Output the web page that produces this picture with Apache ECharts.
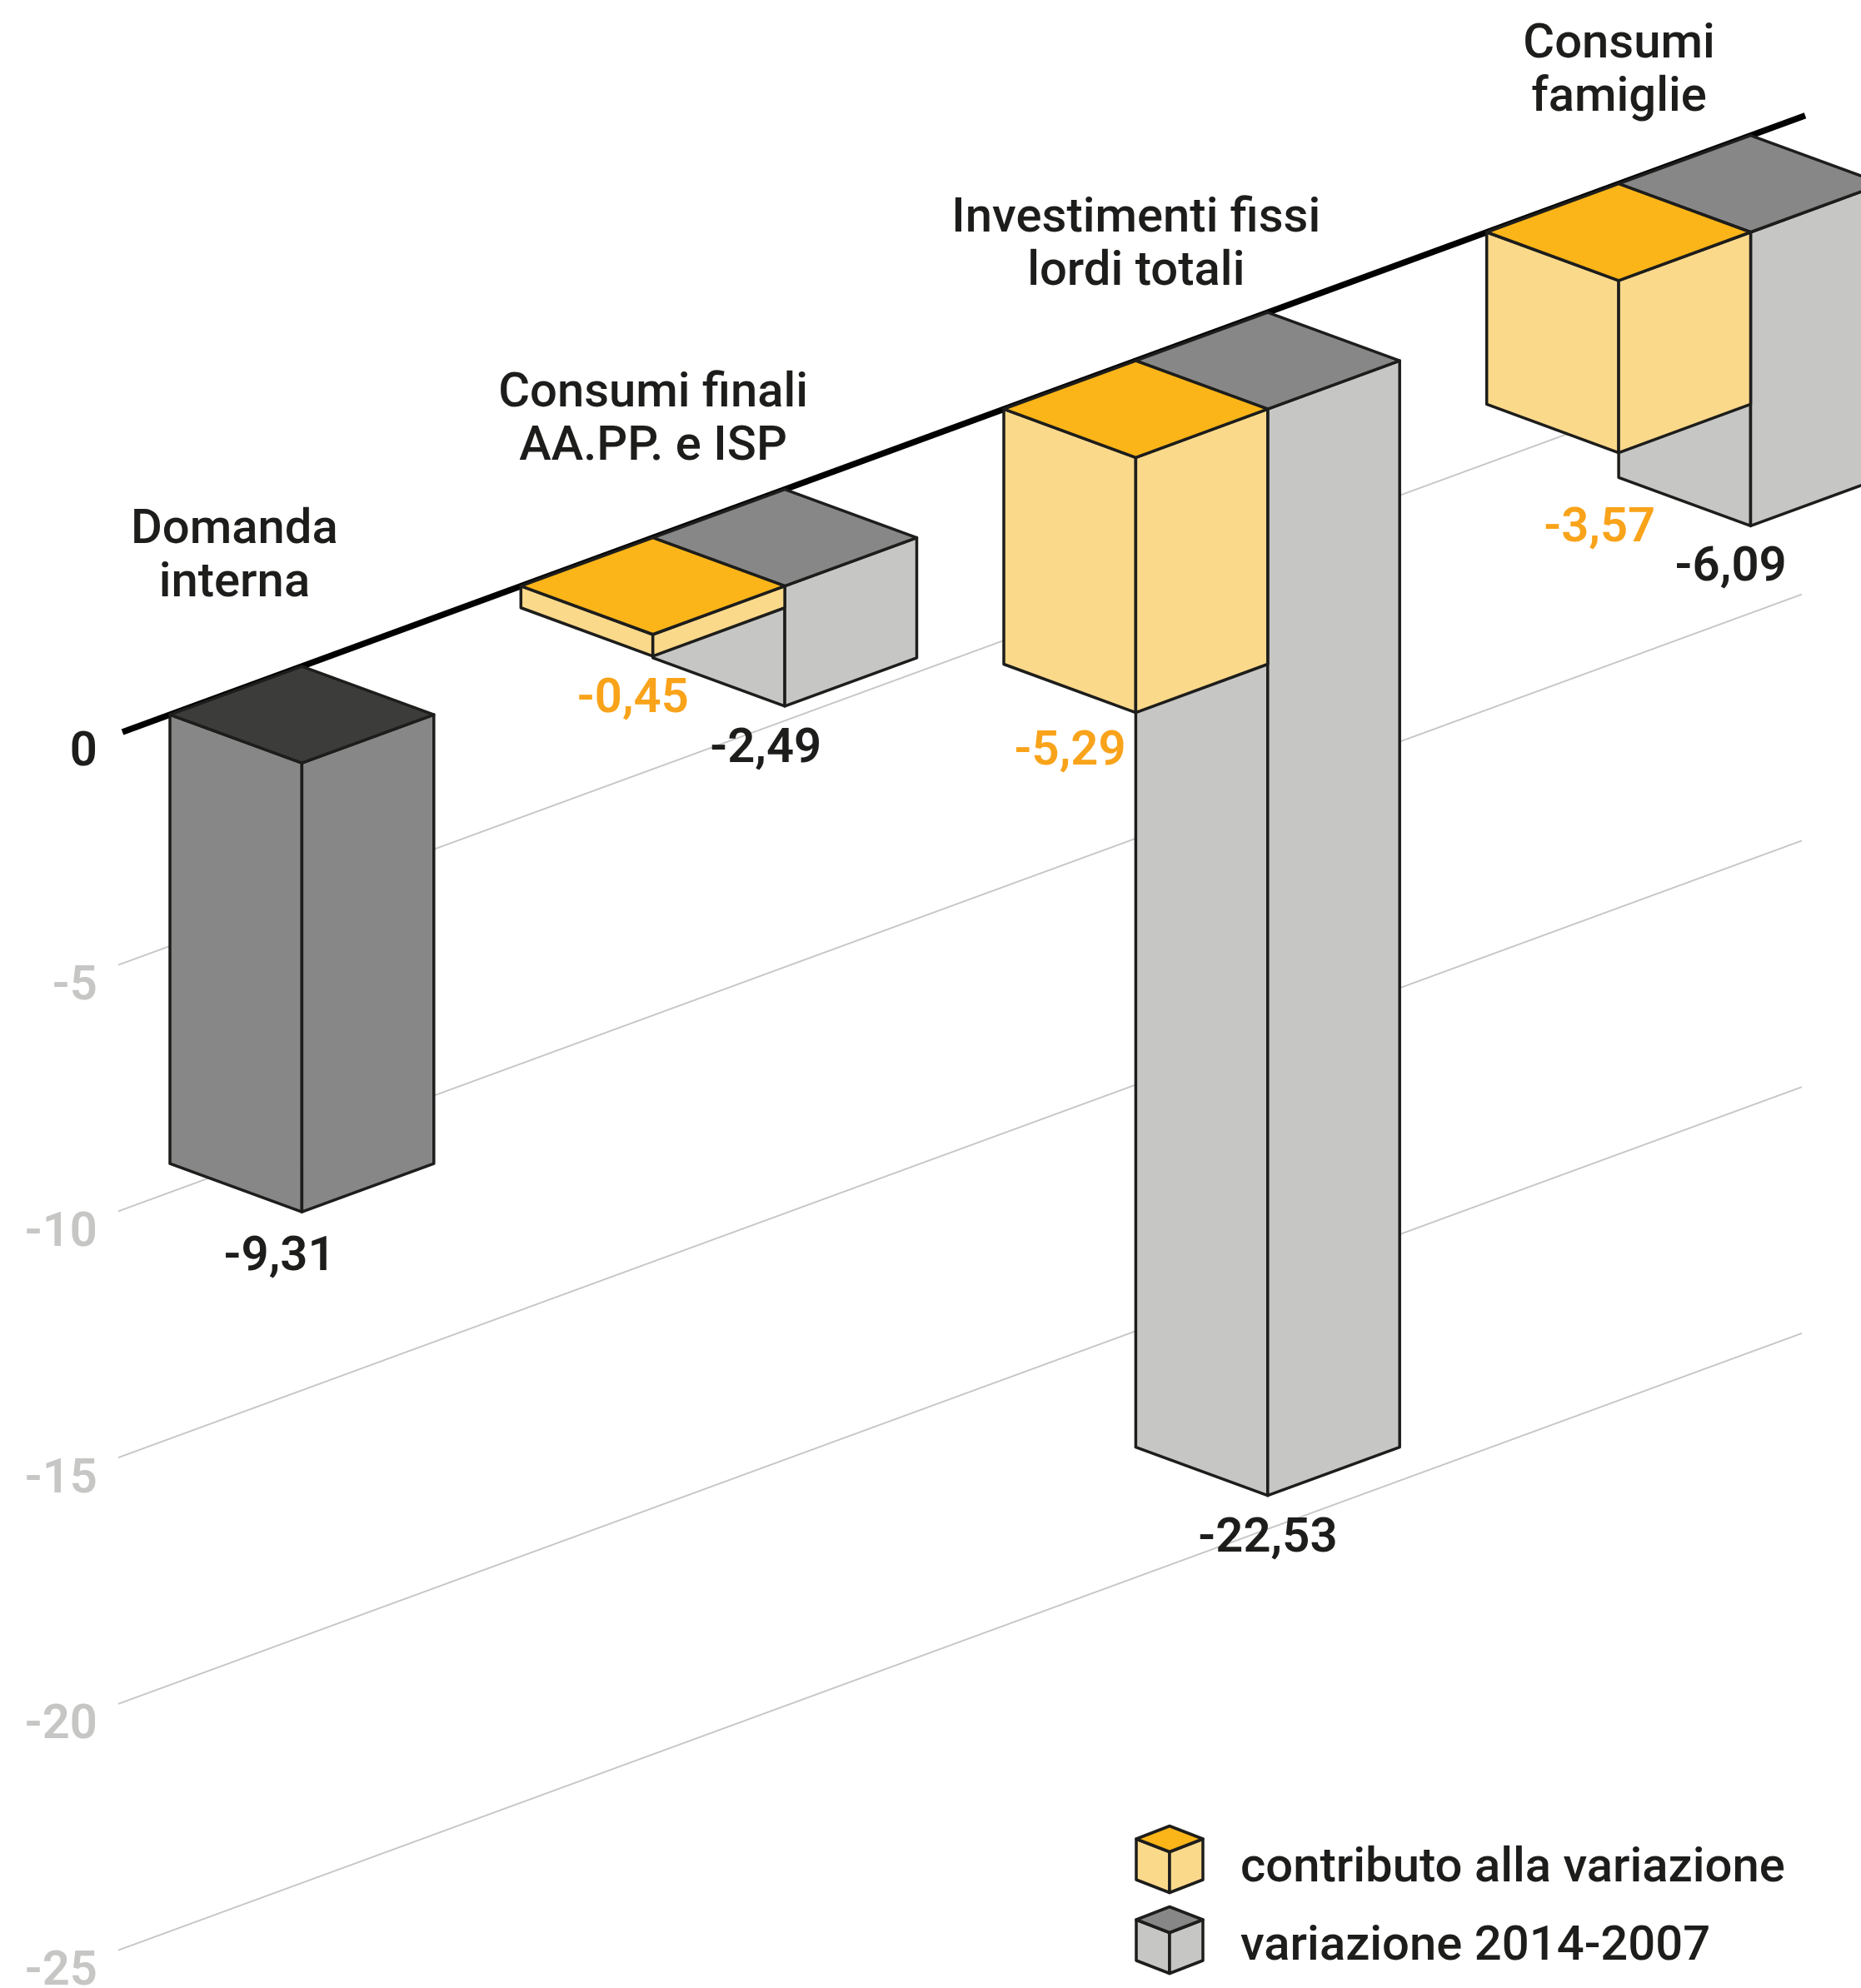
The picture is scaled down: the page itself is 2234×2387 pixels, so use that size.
<!DOCTYPE html>
<html>
<head>
<meta charset="utf-8">
<title>Domanda interna</title>
<style>
html, body { margin: 0; padding: 0; background: #fff; }
#chart { width: 2234px; height: 2387px; }
</style>
<script src="https://cdn.jsdelivr.net/npm/echarts@6/dist/echarts.min.js"></script>
</head>
<body>
<div id="chart"></div>
<script>
// dati
var categories = ['Domanda\ninterna', 'Consumi finali\nAA.PP. e ISP', 'Investimenti fissi\nlordi totali', 'Consumi\nfamiglie'];
var variazione = [-9.31, -2.49, -22.53, -6.09];
var contributo = [null, -0.45, -5.29, -3.57];
var tickValues = [-5, -10, -15, -20, -25];
var legendNames = ['contributo alla variazione', 'variazione 2014-2007'];

// layout della vista obliqua
var SLOPE = 0.3665;
var SKEW_X = 1117;
var HALF_W = 158.4;
var FONT = 'Roboto';
var INK = '#1d1d1b';
var ORANGE = '#f9a31a';
var GRID_GREY = '#c6c6c5';
var nameShift = [[-81, -160], [-158, -140], [-158, -138], [-158, -134]];
var totalShift = [[-27, 55], [-23, 53], [0, 53], [-24, 51]];
var partShift = [null, [-24, 53], [-79, 48], [-23, 92]];

var paletteGray = { top: '#878787', side: '#c6c6c5' };
var paletteDark = { top: '#3c3c3b', side: '#878787' };
var paletteOrange = { top: '#fbb519', side: '#fbd98b' };

function skew(x, y) {
    return y - SLOPE * (x - SKEW_X);
}

function faces(lx, ly, w, rise, h, colors, lineWidth) {
    var st = function (fill) {
        return { fill: fill, stroke: INK, lineWidth: lineWidth, lineJoin: 'round' };
    };
    var L = [lx, ly], A = [lx + w, ly - rise], R = [lx + 2 * w, ly], F = [lx + w, ly + rise];
    var L2 = [lx, ly + h], R2 = [lx + 2 * w, ly + h], F2 = [lx + w, ly + rise + h];
    return [
        { type: 'polygon', shape: { points: [L, F, F2, L2] }, style: st(colors.side) },
        { type: 'polygon', shape: { points: [F, R, R2, F2] }, style: st(colors.side) },
        { type: 'polygon', shape: { points: [L, A, R, F] }, style: st(colors.top) }
    ];
}

function label(text, x, y, fill, size, weight) {
    return {
        type: 'text',
        style: {
            text: text, x: x, y: y, fill: fill, fontFamily: FONT, fontSize: size, fontWeight: weight || 400,
            align: 'center', verticalAlign: 'middle', lineHeight: 64
        }
    };
}

function fmt(v) {
    return v.toFixed(2).replace('.', ',');
}

// disegna un parallelepipedo: la faccia superiore poggia sulla linea dello zero
function renderBox(isPart) {
    return function (params, api) {
        var i = api.value(0), v = api.value(1);
        if (isNaN(v)) return { type: 'group', children: [] };
        var zero = api.coord([i, 0]);
        var end = api.coord([i, v]);
        var lx = zero[0] - HALF_W - (isPart ? HALF_W : 0);
        var ly = skew(lx, zero[1]);
        var h = end[1] - zero[1];
        var rise = HALF_W * SLOPE;
        var colors = isPart ? paletteOrange : (contributo[i] === null ? paletteDark : paletteGray);
        var kids = faces(lx, ly, HALF_W, rise, h, colors, 3.5);
        var shift = isPart ? partShift[i] : totalShift[i];
        kids.push(label(fmt(v), lx + HALF_W + shift[0], ly + rise + h + shift[1], isPart ? ORANGE : INK, 58, 600));
        return { type: 'group', children: kids };
    };
}

function renderGrid(params, api) {
    var v = api.value(0);
    var p = api.coord([0, v]);
    var x1 = 142, x2 = 2163;
    return {
        type: 'group',
        children: [
            {
                type: 'line',
                shape: { x1: x1, y1: skew(x1, p[1]), x2: x2, y2: skew(x2, p[1]) },
                style: { stroke: GRID_GREY, lineWidth: 2 }
            },
            {
                type: 'text',
                style: {
                    text: String(v), x: 117, y: skew(x1, p[1]) + 27, fill: GRID_GREY,
                    fontFamily: FONT, fontSize: 58, fontWeight: 600, align: 'right', verticalAlign: 'middle'
                }
            }
        ]
    };
}

function renderZero(params, api) {
    var p = api.coord([0, 0]);
    var x1 = 147, x2 = 2167;
    return {
        type: 'group',
        children: [
            {
                type: 'line',
                shape: { x1: x1, y1: skew(x1, p[1]), x2: x2, y2: skew(x2, p[1]) },
                style: { stroke: '#000', lineWidth: 7.5 }
            },
            {
                type: 'text',
                style: {
                    text: '0', x: 117, y: skew(x1, p[1]) + 26, fill: INK,
                    fontFamily: FONT, fontSize: 58, fontWeight: 600, align: 'right', verticalAlign: 'middle'
                }
            }
        ]
    };
}

function renderName(params, api) {
    var i = api.value(0);
    var p = api.coord([i, 0]);
    var x = p[0] + nameShift[i][0];
    return label(categories[i], x, skew(x, p[1]) + nameShift[i][1], INK, 58, 500);
}

function legendCube(top, colors) {
    return {
        type: 'group',
        children: faces(1364, top + 16, 40, 15.5, 49, colors, 3.5)
    };
}

function legendText(text, y) {
    return {
        type: 'text',
        style: { text: text, x: 1489, y: y, fill: INK, fontFamily: FONT, fontSize: 58, fontWeight: 500, verticalAlign: 'middle' }
    };
}

var chart = echarts.init(document.getElementById('chart'));
var option = {
    animation: false,
    backgroundColor: '#fff',
    grid: { left: 362.4, top: 0, width: 1739.1, height: 2387 },
    xAxis: { type: 'category', data: categories, boundaryGap: false, show: false },
    yAxis: [
        // scala delle barre
        { type: 'value', min: -32.185, max: 9.041, show: false },
        // scala stampata sulle linee di griglia
        { type: 'value', min: -31.809, max: 8.546, show: false }
    ],
    series: [
        {
            type: 'custom', name: 'griglia', yAxisIndex: 1, z: 1, silent: true,
            data: tickValues.map(function (v) { return [v]; }),
            encode: { y: 0 },
            renderItem: renderGrid
        },
        {
            type: 'custom', name: 'zero', z: 2, silent: true,
            data: [[0, 0]],
            renderItem: renderZero
        },
        {
            type: 'custom', name: legendNames[1], z: 3, silent: true,
            data: variazione.map(function (v, i) { return [i, v]; }),
            renderItem: renderBox(false)
        },
        {
            type: 'custom', name: legendNames[0], z: 4, silent: true,
            data: contributo.map(function (v, i) { return [i, v === null ? '-' : v]; }),
            renderItem: renderBox(true)
        },
        {
            type: 'custom', name: 'nomi', z: 5, silent: true,
            data: categories.map(function (c, i) { return [i, 0]; }),
            renderItem: renderName
        }
    ],
    graphic: [
        legendCube(2192, paletteOrange),
        legendText(legendNames[0], 2244),
        legendCube(2289, paletteGray),
        legendText(legendNames[1], 2338)
    ]
};
chart.setOption(option);
</script>
</body>
</html>
